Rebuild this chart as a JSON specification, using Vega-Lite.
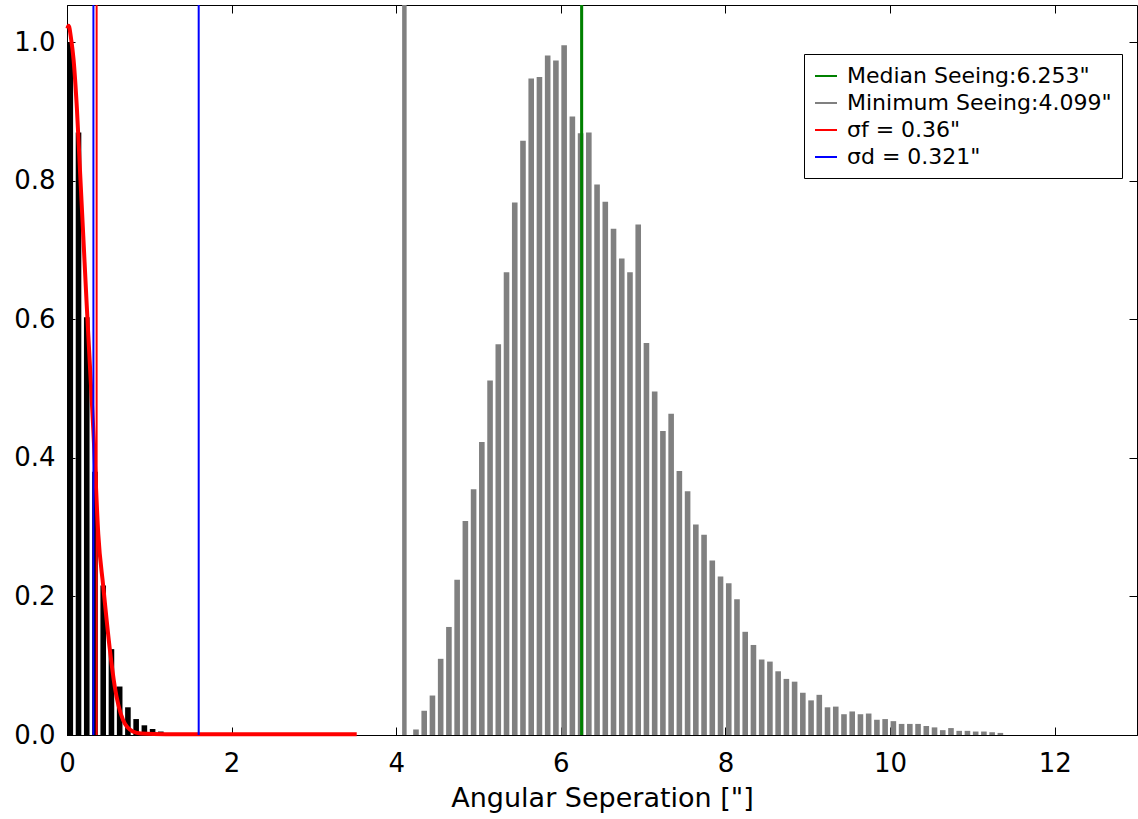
{
  "$schema": "https://vega.github.io/schema/vega-lite/v6.json",
  "width": 1070,
  "height": 730,
  "autosize": {"type": "none"},
  "padding": {"left": 67, "top": 5, "right": 1, "bottom": 84},
  "background": "white",
  "config": {
    "font": "DejaVu Sans",
    "view": {"stroke": "black", "strokeWidth": 1},
    "axis": {
      "grid": false,
      "domainColor": "black",
      "domainWidth": 1,
      "tickColor": "black",
      "tickWidth": 1,
      "tickSize": -8,
      "labelColor": "black",
      "titleColor": "black",
      "labelFont": "DejaVu Sans",
      "titleFont": "DejaVu Sans",
      "labelFontSize": 26,
      "titleFontSize": 27,
      "titleFontWeight": "normal",
      "labelFlush": false
    }
  },
  "resolve": {"axis": {"x": "independent", "y": "independent"}},
  "datasets": {
    "seeing": [
      {"x": 4.24, "y": 0.008}, {"x": 4.34, "y": 0.035}, {"x": 4.44, "y": 0.057}, {"x": 4.54, "y": 0.110},
      {"x": 4.64, "y": 0.156}, {"x": 4.74, "y": 0.224}, {"x": 4.84, "y": 0.309}, {"x": 4.94, "y": 0.355},
      {"x": 5.04, "y": 0.423}, {"x": 5.14, "y": 0.512}, {"x": 5.24, "y": 0.564}, {"x": 5.34, "y": 0.668},
      {"x": 5.44, "y": 0.769}, {"x": 5.54, "y": 0.858}, {"x": 5.64, "y": 0.948}, {"x": 5.74, "y": 0.950},
      {"x": 5.84, "y": 0.981}, {"x": 5.94, "y": 0.974}, {"x": 6.04, "y": 0.996}, {"x": 6.14, "y": 0.893},
      {"x": 6.24, "y": 0.869}, {"x": 6.34, "y": 0.870}, {"x": 6.44, "y": 0.795}, {"x": 6.54, "y": 0.770},
      {"x": 6.64, "y": 0.731}, {"x": 6.74, "y": 0.688}, {"x": 6.84, "y": 0.668}, {"x": 6.94, "y": 0.737},
      {"x": 7.04, "y": 0.566}, {"x": 7.14, "y": 0.496}, {"x": 7.24, "y": 0.439}, {"x": 7.34, "y": 0.464},
      {"x": 7.44, "y": 0.381}, {"x": 7.54, "y": 0.352}, {"x": 7.64, "y": 0.304}, {"x": 7.74, "y": 0.289},
      {"x": 7.84, "y": 0.252}, {"x": 7.94, "y": 0.229}, {"x": 8.04, "y": 0.219}, {"x": 8.14, "y": 0.196},
      {"x": 8.24, "y": 0.149}, {"x": 8.34, "y": 0.130}, {"x": 8.44, "y": 0.109}, {"x": 8.54, "y": 0.106},
      {"x": 8.64, "y": 0.092}, {"x": 8.74, "y": 0.081}, {"x": 8.84, "y": 0.077}, {"x": 8.94, "y": 0.061},
      {"x": 9.04, "y": 0.050}, {"x": 9.14, "y": 0.058}, {"x": 9.24, "y": 0.040}, {"x": 9.34, "y": 0.041},
      {"x": 9.44, "y": 0.030}, {"x": 9.54, "y": 0.034}, {"x": 9.64, "y": 0.030}, {"x": 9.74, "y": 0.031},
      {"x": 9.84, "y": 0.022}, {"x": 9.94, "y": 0.023}, {"x": 10.04, "y": 0.020}, {"x": 10.14, "y": 0.016},
      {"x": 10.24, "y": 0.016}, {"x": 10.34, "y": 0.016}, {"x": 10.44, "y": 0.013}, {"x": 10.54, "y": 0.011},
      {"x": 10.64, "y": 0.007}, {"x": 10.74, "y": 0.010}, {"x": 10.84, "y": 0.006}, {"x": 10.94, "y": 0.006},
      {"x": 11.04, "y": 0.005}, {"x": 11.14, "y": 0.005}, {"x": 11.24, "y": 0.004}, {"x": 11.34, "y": 0.003}
    ],
    "fit": [
      {"x": 0.04, "y": 1.0}, {"x": 0.14, "y": 0.87}, {"x": 0.24, "y": 0.603}, {"x": 0.34, "y": 0.38},
      {"x": 0.44, "y": 0.216}, {"x": 0.54, "y": 0.124}, {"x": 0.64, "y": 0.070}, {"x": 0.74, "y": 0.040},
      {"x": 0.84, "y": 0.023}, {"x": 0.94, "y": 0.014}, {"x": 1.04, "y": 0.0087}, {"x": 1.14, "y": 0.005},
      {"x": 1.24, "y": 0.002}
    ],
    "curve": [
      {"x": 0.005, "y": 1.02}, {"x": 0.02, "y": 1.024}, {"x": 0.05, "y": 1.005}, {"x": 0.08, "y": 0.975},
      {"x": 0.12, "y": 0.905}, {"x": 0.16, "y": 0.81}, {"x": 0.20, "y": 0.715}, {"x": 0.24, "y": 0.62},
      {"x": 0.28, "y": 0.53}, {"x": 0.32, "y": 0.44}, {"x": 0.34, "y": 0.39}, {"x": 0.38, "y": 0.29},
      {"x": 0.44, "y": 0.215}, {"x": 0.52, "y": 0.124}, {"x": 0.58, "y": 0.07}, {"x": 0.68, "y": 0.022},
      {"x": 0.80, "y": 0.005}, {"x": 0.90, "y": 0.002}, {"x": 1.2, "y": 0.001}, {"x": 3.52, "y": 0.001}
    ],
    "lines": [
      {"pos": 6.253, "label": "Median Seeing:6.253\""},
      {"pos": 4.099, "label": "Minimum Seeing:4.099\""},
      {"pos": 0.36, "label": "σf = 0.36\""},
      {"pos": 0.321, "label": "σd = 0.321\""},
      {"pos": 1.6, "label": "σd = 0.321\""}
    ]
  },
  "layer": [
    {
      "data": {"name": "seeing"},
      "mark": {"type": "bar", "orient": "vertical", "width": 5.6, "color": "#808080"},
      "encoding": {
        "x": {
          "field": "x", "type": "quantitative",
          "scale": {"domain": [0, 13], "nice": false, "zero": false, "padding": 0},
          "axis": {"orient": "bottom", "values": [0, 2, 4, 6, 8, 10, 12], "format": "d", "labelPadding": 23, "title": "Angular Seperation [\"]", "titlePadding": 9}
        },
        "y": {
          "field": "y", "type": "quantitative",
          "scale": {"domain": [0, 1.054], "nice": false, "padding": 0},
          "axis": {"orient": "left", "values": [0, 0.2, 0.4, 0.6, 0.8, 1.0], "format": ".1f", "labelPadding": 20, "title": null}
        }
      }
    },
    {
      "data": {"name": "fit"},
      "mark": {"type": "bar", "orient": "vertical", "width": 5.6, "color": "black"},
      "encoding": {
        "x": {
          "field": "x", "type": "quantitative",
          "axis": {"orient": "top", "values": [0, 2, 4, 6, 8, 10, 12], "labels": false, "title": null, "domain": false}
        },
        "y": {
          "field": "y", "type": "quantitative",
          "axis": {"orient": "right", "values": [0, 0.2, 0.4, 0.6, 0.8, 1.0], "labels": false, "title": null, "domain": false}
        }
      }
    },
    {
      "data": {"name": "curve"},
      "mark": {"type": "line", "color": "#ff0000", "strokeWidth": 4, "interpolate": "monotone"},
      "encoding": {
        "x": {"field": "x", "type": "quantitative", "axis": null},
        "y": {"field": "y", "type": "quantitative", "axis": null}
      }
    },
    {
      "data": {"name": "lines"},
      "mark": {"type": "rule", "strokeWidth": 2},
      "encoding": {
        "x": {"field": "pos", "type": "quantitative", "axis": null},
        "color": {
          "field": "label", "type": "nominal",
          "scale": {
            "domain": ["Median Seeing:6.253\"", "Minimum Seeing:4.099\"", "σf = 0.36\"", "σd = 0.321\""],
            "range": ["#008000", "#808080", "#ff0000", "#0000ff"]
          },
          "legend": {
            "orient": "none", "legendX": 737, "legendY": 49, "title": null,
            "symbolType": "stroke", "symbolSize": 484, "symbolStrokeWidth": 2,
            "labelFontSize": 22, "labelFont": "DejaVu Sans", "labelColor": "black", "labelLimit": 400,
            "strokeColor": "black", "fillColor": "white", "padding": 10, "rowPadding": 4, "labelOffset": 9,
            "cornerRadius": 0
          }
        }
      }
    },
    {
      "data": {"name": "lines"},
      "transform": [{"filter": "datum.pos > 4"}],
      "mark": {"type": "rule"},
      "encoding": {
        "x": {"field": "pos", "type": "quantitative", "axis": null},
        "color": {"field": "label", "type": "nominal", "legend": null},
        "strokeWidth": {
          "field": "label", "type": "nominal",
          "scale": {
            "type": "ordinal",
            "domain": ["Median Seeing:6.253\"", "Minimum Seeing:4.099\""],
            "range": [3, 4.5]
          },
          "legend": null
        }
      }
    }
  ]
}
